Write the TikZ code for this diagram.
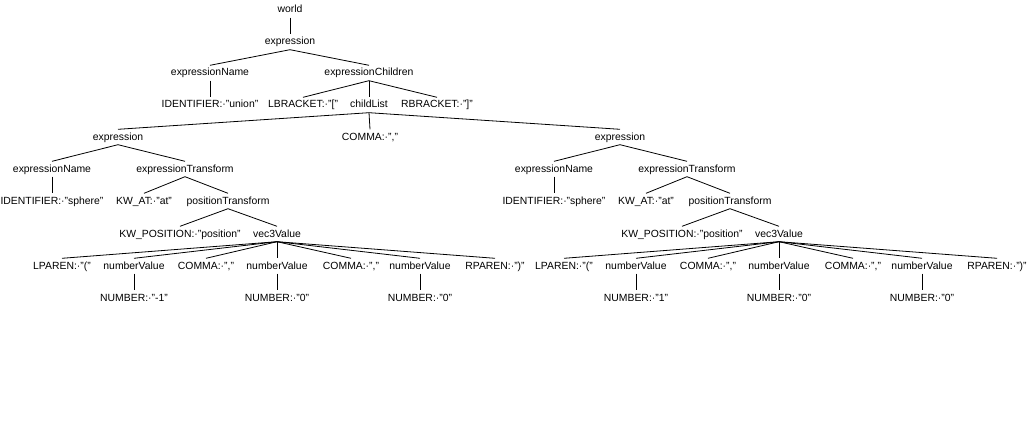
\documentclass[tikz,border=0pt]{standalone}
\usepackage{fontspec}
\setmainfont{Liberation Sans}
\begin{document}
\begin{tikzpicture}[x=1pt,y=-1pt,
  tn/.style={inner xsep=1pt,inner ysep=2.5pt,text height=8pt,text depth=2pt,
             font=\fontsize{10.4}{12}\selectfont},
  br/.style={draw=black,line width=0.8pt}]
\useasboundingbox[fill=white] (0,0) rectangle (1027,433);

% upper part of the tree
\node[tn] (world) at (290,10) {world};
\node[tn] (e0) at (290,42) {expression};
\node[tn] (en0) at (210,73) {expressionName};
\node[tn] (ec) at (369,73) {expressionChildren};
\node[tn] (id0) at (210,105) {IDENTIFIER:·"union"};
\node[tn] (lb) at (303,105) {LBRACKET:·"["};
\node[tn] (cl) at (369,105) {childList};
\node[tn] (rb) at (437,105) {RBRACKET:·"]"};
\node[tn] (cm) at (370,137) {COMMA:·","};

\draw[br] (world) -- (e0);
\draw[br] (e0.south) -- (en0.north);
\draw[br] (e0.south) -- (ec.north);
\draw[br] (en0) -- (id0);
\draw[br] (ec.south) -- (lb.north);
\draw[br] (ec.south) -- (cl.north);
\draw[br] (ec.south) -- (rb.north);
\draw[br] (cl.south) -- (cm.north);

% the two child expressions
\foreach \s/\dx/\n in {L/0/-1,R/502/1}{
  \begin{scope}[xshift=\dx]
  \node[tn] (e\s) at (118,137) {expression};
  \node[tn] (en\s) at (52,169) {expressionName};
  \node[tn] (et\s) at (185,169) {expressionTransform};
  \node[tn] (id\s) at (52,201) {IDENTIFIER:·"sphere"};
  \node[tn] (ka\s) at (144,201) {KW\_AT:·"at"};
  \node[tn] (pt\s) at (228,201) {positionTransform};
  \node[tn] (kp\s) at (180,234) {KW\_POSITION:·"position"};
  \node[tn] (v\s) at (277,234) {vec3Value};
  \node[tn] (lp\s) at (62,266) {LPAREN:·"("};
  \node[tn] (nva\s) at (134,266) {numberValue};
  \node[tn] (ca\s) at (206,266) {COMMA:·","};
  \node[tn] (nvb\s) at (277,266) {numberValue};
  \node[tn] (cb\s) at (351,266) {COMMA:·","};
  \node[tn] (nvc\s) at (420,266) {numberValue};
  \node[tn] (rp\s) at (495,266) {RPAREN:·")"};
  \node[tn] (nua\s) at (134,298) {NUMBER:·"\n"};
  \node[tn] (nub\s) at (277,298) {NUMBER:·"0"};
  \node[tn] (nuc\s) at (420,298) {NUMBER:·"0"};
  \end{scope}
  \draw[br] (cl.south) -- (e\s.north);
  \draw[br] (e\s.south) -- (en\s.north);
  \draw[br] (e\s.south) -- (et\s.north);
  \draw[br] (en\s) -- (id\s);
  \draw[br] (et\s.south) -- (ka\s.north);
  \draw[br] (et\s.south) -- (pt\s.north);
  \draw[br] (pt\s.south) -- (kp\s.north);
  \draw[br] (pt\s.south) -- (v\s.north);
  \foreach \c in {lp,nva,ca,nvb,cb,nvc,rp}
    \draw[br] (v\s.south) -- (\c\s.north);
  \draw[br] (nva\s) -- (nua\s);
  \draw[br] (nvb\s) -- (nub\s);
  \draw[br] (nvc\s) -- (nuc\s);
}
\end{tikzpicture}
\end{document}
